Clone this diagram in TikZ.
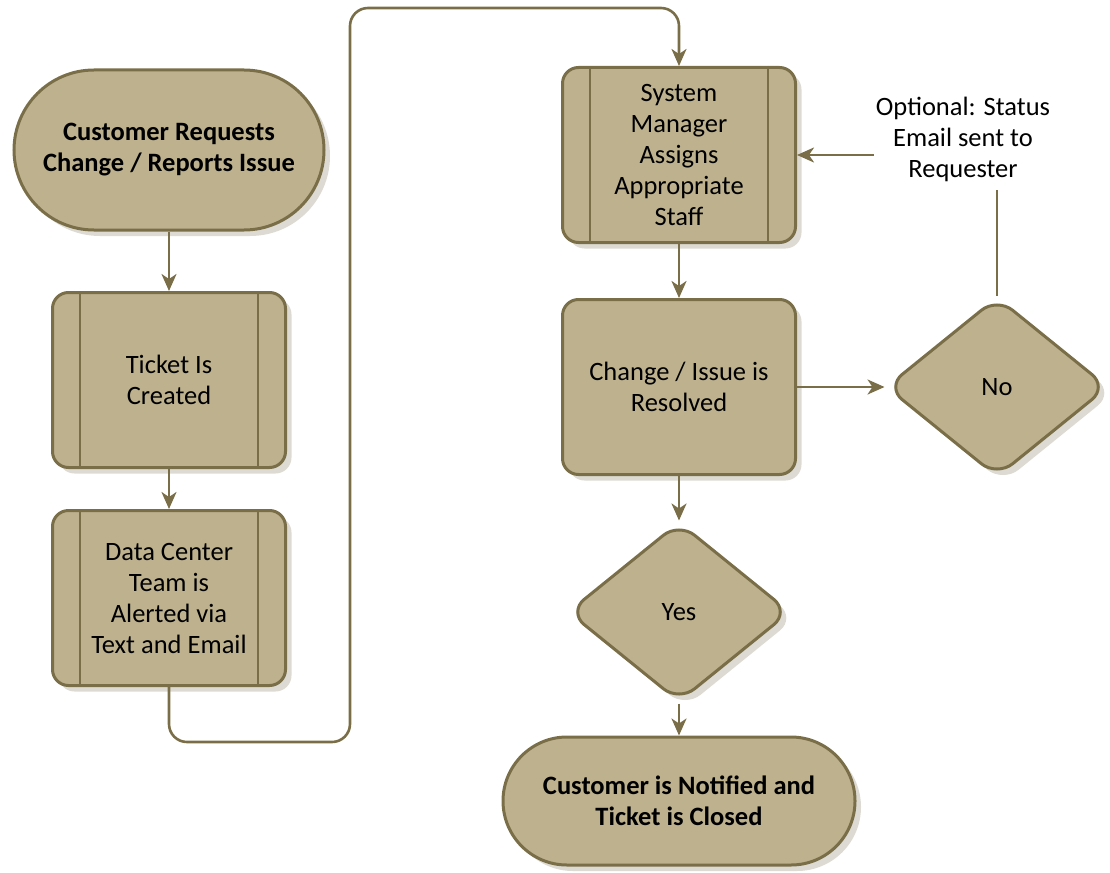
\documentclass[tikz,border=0pt]{standalone}
\usepackage{fontspec}
\setmainfont{Carlito}
\usetikzlibrary{shapes.geometric,shapes.misc,shadows,arrows.meta}

\definecolor{boxfill}{RGB}{189,177,142}
\definecolor{boxedge}{RGB}{122,110,72}
\definecolor{shade}{RGB}{220,218,210}

\tikzset{
  base/.style={draw=boxedge, line width=3pt, fill=boxfill, align=center,
    font=\fontsize{26.5}{31}\selectfont, inner sep=0pt,
    drop shadow={shadow xshift=6pt, shadow yshift=-6pt, fill=shade, opacity=1}},
  terminal/.style={base, rounded rectangle, font=\bfseries\fontsize{26.5}{31}\selectfont},
  procbox/.style={base, rectangle, rounded corners=16pt,
    minimum width=233pt, minimum height=175pt},
  decision/.style={base, diamond, rounded corners=20pt,
    minimum width=222pt, minimum height=180pt},
  conn/.style={draw=boxedge, line width=2.6pt,
    -{Stealth[length=17pt, width=15pt, inset=5pt]}},
  plain/.style={draw=boxedge, line width=2.6pt},
  sideline/.style={draw=boxedge, line width=2.6pt},
}

\begin{document}
\begin{tikzpicture}[x=1pt, y=-1pt]
\useasboundingbox (0,0) rectangle (1110,872);

% start and end terminals
\node[terminal, minimum width=310pt, minimum height=160pt] (start) at (169,150)
  {Customer Requests\\Change / Reports Issue};
\node[terminal, minimum width=352pt, minimum height=128pt] (finish) at (679,801)
  {Customer is Notified and\\Ticket is Closed};

% process steps
\node[procbox] (ticket) at (169,380) {Ticket Is\\Created};
\node[procbox] (alert) at (169,598) {Data Center\\Team is\\Alerted via\\Text and Email};
\node[procbox] (assign) at (679,155) {System\\Manager\\Assigns\\Appropriate\\Staff};
\node[procbox] (resolved) at (679,387) {Change / Issue is\\Resolved};

% vertical side bars of predefined-process boxes
\foreach \n in {ticket, alert, assign}{
  \draw[sideline] ([xshift=29pt]\n.north west) -- ([xshift=29pt]\n.south west);
  \draw[sideline] ([xshift=-29pt]\n.north east) -- ([xshift=-29pt]\n.south east);
}

% decisions
\node[decision] (no) at (997,387) {No};
\node[decision] (yes) at (679,612) {Yes};

% annotation
\node[align=center, font=\fontsize{26.5}{31}\selectfont, inner sep=2pt] (note) at (963,139)
  {Optional: Status\\Email sent to\\Requester};

% connectors
\coordinate (bend) at (350,742);
\coordinate (topy) at (0,8);
\coordinate (noty) at (0,190);
\draw[conn] (start) -- (ticket);
\draw[conn] (ticket) -- (alert);
\draw[conn, rounded corners=18pt] (alert.south) |- (bend) |- (assign.north |- topy) -- (assign.north);
\draw[conn] (assign) -- (resolved);
\draw[conn] (resolved) -- (no);
\draw[conn] (resolved.south) -- (yes.north);
\draw[conn] (yes.south) -- (finish.north);
\draw[plain] (no.north) -- (no.north |- noty);
\draw[conn] ([yshift=-16pt]note.west) -- ([yshift=-16pt]note.west -| assign.east);
\end{tikzpicture}
\end{document}
